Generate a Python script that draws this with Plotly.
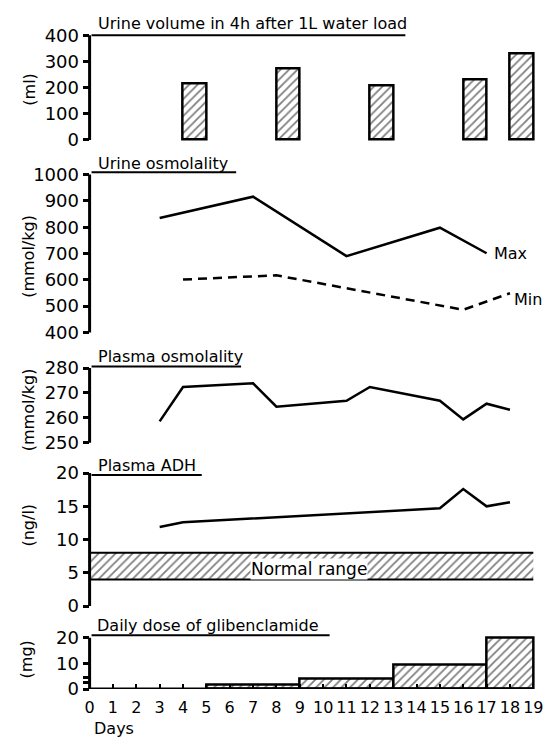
import plotly.graph_objects as go

W, H = 552, 745
FONT = "DejaVu Sans"

# ---------------- data ----------------
vol_start_day = [4, 8, 12, 16, 18]
vol_ml = [217, 273, 209, 232, 329]

uosm_max_days = [3, 7, 11, 15, 17]
uosm_max = [835, 916, 690, 798, 701]
uosm_min_days = [4, 8, 16, 18]
uosm_min = [601, 617, 486, 549]

posm_days = [3, 4, 7, 8, 11, 12, 15, 16, 17, 18]
posm = [258.6, 272.4, 273.9, 264.5, 266.9, 272.4, 266.9, 259.4, 265.7, 263.3]

adh_days = [3, 4, 15, 16, 17, 18]
adh = [11.9, 12.6, 14.7, 17.6, 15.0, 15.6]
normal_low, normal_high = 4, 8
normal_days = [0, 19]

dose_start = [5, 9, 13, 17]
dose_end = [9, 13, 17, 19]
dose_mg = [1.8, 4.0, 9.5, 20]

day_ticks = list(range(0, 20))

vol_ticks = [0, 100, 200, 300, 400]
uosm_ticks = [400, 500, 600, 700, 800, 900, 1000]
posm_ticks = [250, 260, 270, 280]
adh_ticks = [0, 5, 10, 15, 20]
dose_ticks = [0, 2.5, 4.5, 10, 20]
dose_ticktext = ["0", "", "", "10", "20"]

titles = ["Urine volume in 4h after 1L water load", "Urine osmolality",
          "Plasma osmolality", "Plasma ADH", "Daily dose of glibenclamide"]
units = ["(ml)", "(mmol/kg)", "(mmol/kg)", "(ng/l)", "(mg)"]

# ---------------- layout geometry (pixels) ----------------
X0, PXD, XMAX = 86, 23.74, 19.25
xdom = [X0 / W, (X0 + XMAX * PXD) / W]

# (vtop, ptop, vbot, pbot, pad_top, pad_bot)
panels = [
    (400, 29, 0, 136, 4, 4),
    (1000, 171.5, 400, 333, 4, 4),
    (280, 369.5, 250, 446, 4, 4),
    (20, 477, 0, 613, 4, 4),
    (20, 645.5, 0, 698, 4, 0),
]
title_pos = [(93, 17, 29, 407), (93, 160, 169, 235), (93, 358, 368, 240),
             (93, 469, 479, 200), (91, 633, 643, 330)]
unit_pos = [(24, 84), (24, 255), (24, 412), (24, 530), (22, 668)]
tick_sets = [(vol_ticks, None), (uosm_ticks, None), (posm_ticks, None),
             (adh_ticks, None), (dose_ticks, dose_ticktext)]

HATCH = dict(shape="/", fgcolor="black", bgcolor="white", size=6, solidity=0.3)

fig = go.Figure()

# panel 1 bars
fig.add_trace(go.Bar(
    x=[d + 0.5 for d in vol_start_day], y=vol_ml, width=1,
    marker=dict(color="white", line=dict(color="black", width=2.5), pattern=HATCH),
    xaxis="x", yaxis="y"))

# panel 2 lines
fig.add_trace(go.Scatter(x=uosm_max_days, y=uosm_max, mode="lines",
                         line=dict(color="black", width=2.5),
                         xaxis="x2", yaxis="y2"))
fig.add_trace(go.Scatter(x=uosm_min_days, y=uosm_min, mode="lines",
                         line=dict(color="black", width=2.5, dash="9px,6px"),
                         xaxis="x2", yaxis="y2"))

# panel 3
fig.add_trace(go.Scatter(x=posm_days, y=posm, mode="lines",
                         line=dict(color="black", width=2.5),
                         xaxis="x3", yaxis="y3"))

# panel 4 normal range band + ADH line
fig.add_trace(go.Scatter(x=normal_days, y=[normal_low] * 2, mode="lines",
                         line=dict(color="black", width=2),
                         xaxis="x4", yaxis="y4"))
fig.add_trace(go.Scatter(x=normal_days, y=[normal_high] * 2, mode="lines",
                         line=dict(color="black", width=2), fill="tonexty",
                         fillcolor="white", fillpattern=HATCH,
                         xaxis="x4", yaxis="y4"))
fig.add_trace(go.Scatter(x=adh_days, y=adh, mode="lines",
                         line=dict(color="black", width=2.5),
                         xaxis="x4", yaxis="y4"))

# panel 5 dose bars
fig.add_trace(go.Bar(
    x=[(s + e) / 2 for s, e in zip(dose_start, dose_end)], y=dose_mg,
    width=[e - s for s, e in zip(dose_start, dose_end)],
    marker=dict(color="white", line=dict(color="black", width=2.5), pattern=HATCH),
    xaxis="x5", yaxis="y5"))

layout = dict(width=W, height=H, margin=dict(l=0, r=0, t=0, b=0),
              paper_bgcolor="white", plot_bgcolor="rgba(0,0,0,0)",
              showlegend=False, font=dict(family=FONT, color="black", size=17),
              bargap=0)
shapes = []
annotations = []
for i, (vtop, ptop, vbot, pbot, padt, padb) in enumerate(panels):
    n = "" if i == 0 else str(i + 1)
    k = (pbot - ptop) / (vtop - vbot)
    rng = [vbot - padb / k, vtop + padt / k]
    ydom = [1 - (pbot + padb) / H, 1 - (ptop - padt) / H]
    tv, tt = tick_sets[i]
    yax = dict(domain=ydom, range=rng, anchor="x" + n, showgrid=False,
               zeroline=False, showline=False, ticks="outside", ticklen=6,
               tickwidth=2.5, tickcolor="black", tickvals=tv,
               tickfont=dict(size=18, family=FONT, color="black"))
    if tt is not None:
        yax["ticktext"] = tt
    layout["yaxis" + n] = yax
    xax = dict(domain=xdom, range=[0, XMAX], anchor="y" + n, showgrid=False,
               zeroline=False, showline=False, visible=(i == 4))
    if i == 4:
        xax.update(ticks="inside", ticklen=5, tickwidth=2, tickcolor="black",
                   tickvals=day_ticks, ticklabelstandoff=7,
                   tickfont=dict(size=16, family=FONT, color="black"))
    layout["xaxis" + n] = xax
    # y axis line
    shapes.append(dict(type="line", xref="paper", yref="y" + n, x0=X0 / W, x1=X0 / W,
                       y0=vbot, y1=vtop, line=dict(color="black", width=3)))
    # title + underline
    tx, ty, uy, ux1 = title_pos[i]
    annotations.append(dict(text=titles[i], xref="paper", yref="paper",
                            x=tx / W, y=1 - ty / H, xanchor="left", yanchor="middle",
                            showarrow=False, font=dict(size=16, family=FONT)))
    shapes.append(dict(type="line", xref="paper", yref="paper", x0=88 / W, x1=ux1 / W,
                       y0=1 - uy / H, y1=1 - uy / H, line=dict(color="black", width=2)))
    ux, uy2 = unit_pos[i]
    annotations.append(dict(text=units[i], xref="paper", yref="paper", x=ux / W,
                            y=1 - uy2 / H, textangle=-90, showarrow=False,
                            xanchor="center", yanchor="middle",
                            font=dict(size=16, family=FONT)))

# x axis line bottom panel
shapes.append(dict(type="line", xref="x5", yref="y5", x0=0, x1=19, y0=0, y1=0,
                   line=dict(color="black", width=3)))

annotations.append(dict(text="Max", xref="x2", yref="y2", x=uosm_max_days[-1],
                        y=uosm_max[-1], xanchor="left", yanchor="middle", xshift=5,
                        showarrow=False, font=dict(size=16, family=FONT)))
annotations.append(dict(text="Min", xref="x2", yref="y2", x=uosm_min_days[-1],
                        y=uosm_min[-1], xanchor="left", yanchor="middle", xshift=2,
                        yshift=-6, showarrow=False, font=dict(size=16, family=FONT)))
annotations.append(dict(text="Normal range", xref="x4", yref="y4", x=9.4,
                        y=(normal_low + normal_high) / 2, yshift=-3, showarrow=False,
                        bgcolor="white", borderpad=0, font=dict(size=17, family=FONT)))
annotations.append(dict(text="Days", xref="paper", yref="paper", x=88 / W,
                        y=1 - 738 / H, xanchor="left", yanchor="middle",
                        showarrow=False, font=dict(size=16, family=FONT)))

layout["shapes"] = shapes
layout["annotations"] = annotations
fig.update_layout(**layout)

fig.write_html("out.html", config={"displayModeBar": False},
               post_script="document.body.style.margin='0';")
